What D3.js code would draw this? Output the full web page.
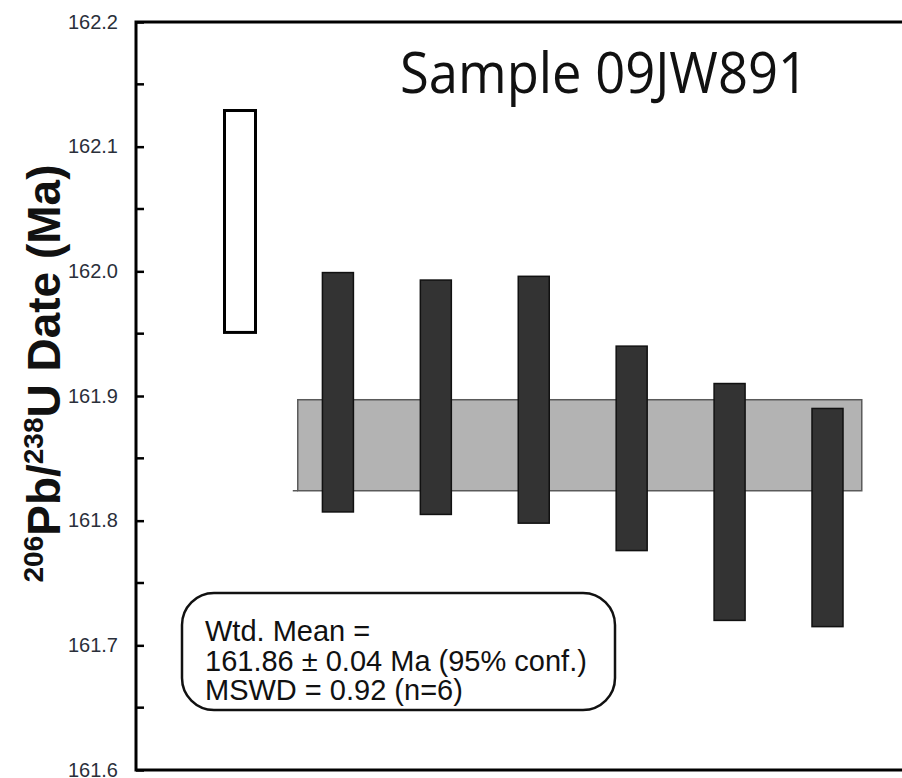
<!DOCTYPE html>
<html>
<head>
<meta charset="utf-8">
<script src="https://cdn.jsdelivr.net/npm/d3@7/dist/d3.min.js"></script>
<style>
html, body { margin: 0; padding: 0; background: #fff; }
svg { display: block; }
</style>
</head>
<body>
<script>
// ---- data ----
const analyses = [1, 2, 3, 4, 5, 6, 7];
const dateHigh = [162.129, 161.999, 161.993, 161.996, 161.940, 161.910, 161.890];
const dateLow  = [161.951, 161.807, 161.805, 161.798, 161.776, 161.720, 161.715];
const included = [false, true, true, true, true, true, true];
const meanBand = [161.824, 161.897];      // weighted mean ± 95% conf
const meanBandX = [1.59, 7.35];           // horizontal extent of the mean band (analysis units)
const yTicks = [161.6, 161.7, 161.8, 161.9, 162.0, 162.1, 162.2];
const yMinorTicks = [161.65, 161.75, 161.85, 161.95, 162.05, 162.15];
const titleText = "Sample 09JW891";
const statLines = ["Wtd. Mean =", "161.86 \u00b1 0.04 Ma (95% conf.)", "MSWD = 0.92 (n=6)"];

// ---- layout ----
const W = 902, H = 778;
const frame = {left: 136, top: 22, right: 906, bottom: 770};

const svg = d3.select("body").append("svg")
  .attr("width", W).attr("height", H);

const y = d3.scaleLinear().domain([161.6, 162.2]).range([frame.bottom, frame.top]);
const x = d3.scaleLinear().domain([1, 7]).range([240, 827.5]);
const barW = 31;

// mean band
svg.append("rect")
  .attr("x", x(meanBandX[0]))
  .attr("y", y(meanBand[1]))
  .attr("width", x(meanBandX[1]) - x(meanBandX[0]))
  .attr("height", y(meanBand[0]) - y(meanBand[1]))
  .attr("fill", "#b3b3b3")
  .attr("stroke", "#5a5a5a")
  .attr("stroke-width", 1.5);
svg.append("line")
  .attr("x1", x(meanBandX[0]) - 5).attr("x2", x(meanBandX[0]))
  .attr("y1", y(meanBand[0])).attr("y2", y(meanBand[0]))
  .attr("stroke", "#5a5a5a").attr("stroke-width", 1.5);

// bars
const bars = analyses.map((a, i) => ({a, hi: dateHigh[i], lo: dateLow[i], inc: included[i]}));
svg.selectAll("rect.bar").data(bars).enter().append("rect")
  .attr("class", "bar")
  .attr("x", d => x(d.a) - barW / 2)
  .attr("y", d => y(d.hi))
  .attr("width", barW)
  .attr("height", d => y(d.lo) - y(d.hi))
  .attr("fill", d => d.inc ? "#333333" : "#ffffff")
  .attr("stroke", d => d.inc ? "#111" : "#000")
  .attr("stroke-width", d => d.inc ? 1.5 : 3);

// frame
svg.append("rect")
  .attr("x", frame.left).attr("y", frame.top)
  .attr("width", frame.right - frame.left)
  .attr("height", frame.bottom - frame.top)
  .attr("fill", "none").attr("stroke", "#000").attr("stroke-width", 3);

// y axis
const yAxis = d3.axisRight(y).tickValues(yTicks).tickSize(8).tickFormat(d3.format(".1f"));
const gAxis = svg.append("g").attr("transform", `translate(${frame.left},0)`).call(yAxis);
gAxis.select(".domain").remove();
gAxis.selectAll(".tick line").attr("stroke", "#000").attr("stroke-width", 2.5);
gAxis.selectAll(".tick text")
  .attr("x", -18)
  .attr("dy", "0.3em")
  .attr("text-anchor", "end")
  .attr("font-family", "Liberation Sans, Arial, sans-serif")
  .attr("font-size", 20)
  .attr("fill", "#2a2f3a");
svg.append("g").attr("transform", `translate(${frame.left},0)`)
  .selectAll("line").data(yMinorTicks).enter().append("line")
  .attr("x1", 0).attr("x2", 8)
  .attr("y1", d => y(d)).attr("y2", d => y(d))
  .attr("stroke", "#000").attr("stroke-width", 2.5);

// y axis title
const yt = svg.append("text")
  .attr("transform", `translate(60,${(155 + 592) / 2}) rotate(-90)`)
  .attr("text-anchor", "middle")
  .attr("font-family", "Liberation Sans, Arial, sans-serif")
  .attr("font-weight", "bold")
  .attr("font-size", 46)
  .attr("fill", "#111");
yt.append("tspan").attr("font-size", 28).attr("dy", -17).text("206");
yt.append("tspan").attr("dy", 17).text("Pb/");
yt.append("tspan").attr("font-size", 28).attr("dy", -17).text("238");
yt.append("tspan").attr("dy", 17).text("U Date (Ma)");

// title
svg.append("text")
  .attr("x", 400).attr("y", 93)
  .attr("font-family", "Open Sans, sans-serif")
  .attr("font-size", 56)
  .attr("textLength", 408)
  .attr("lengthAdjust", "spacingAndGlyphs")
  .attr("fill", "#111")
  .text(titleText);

// stats box
svg.append("rect")
  .attr("x", 182).attr("y", 593).attr("width", 433).attr("height", 117)
  .attr("rx", 32).attr("ry", 32)
  .attr("fill", "#fff").attr("stroke", "#111").attr("stroke-width", 2.5);
svg.append("g").selectAll("text").data(statLines).enter().append("text")
  .attr("x", 205)
  .attr("y", (d, i) => 641 + i * 29.5)
  .attr("font-family", "Liberation Sans, Arial, sans-serif")
  .attr("font-size", 29)
  .attr("fill", "#111")
  .text(d => d);
</script>
</body>
</html>
